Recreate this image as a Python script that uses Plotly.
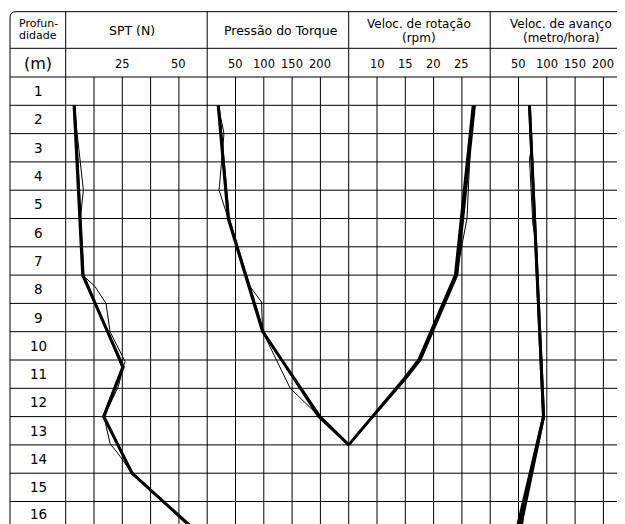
import plotly.graph_objects as go

# ---------------- data ----------------
depth_labels = list(range(1, 17))
spt_ticks = [25, 50]
torque_ticks = [50, 100, 150, 200]
rot_ticks = [10, 15, 20, 25]
av_ticks = [50, 100, 150, 200]

# SPT (N)
spt_depth = [1, 7, 10.25, 12, 14, 16]
spt_main = [3.7, 7.5, 25.4, 16.9, 29.2, 57.0]
spt_alt = [4.0, 7.9, 25.0, 16.5, 29.6, 56.3]
spt_thin_depth = [1, 4, 5, 7, 7.4, 8, 9, 10.05, 10.25, 10.95, 12, 12.95, 13.4, 14, 16]
spt_thin = [3.7, 7.8, 6.5, 7.5, 12.9, 17.8, 19.6, 26.2, 25.4, 23.2, 16.9, 19.6, 24.0, 29.2, 57.0]

# Pressão do Torque
tq_depth = [1, 5, 9, 12, 13]
tq_main = [19.4, 37.1, 97.9, 199.0, 250.0]
tq_alt = [20.5, 38.5, 99.5, 196.0, 250.0]
tq_thin_depth = [1, 2, 4, 5, 7.4, 7.95, 9, 11, 12, 13]
tq_thin = [19.4, 29.7, 21.0, 37.1, 75.5, 96.0, 98.0, 146.7, 199.0, 250.0]

# Veloc. de rotação (rpm)
rot_depth = [1, 7, 10, 10.65, 13]
rot_main = [27.0, 23.85, 17.37, 14.85, 5.0]
rot_alt = [27.3, 24.2, 17.7, 15.15, 5.0]
rot_thin_depth = [1, 2, 5, 7, 10, 10.65, 13]
rot_thin = [27.2, 26.6, 25.9, 24.0, 17.6, 15.0, 5.0]

# Veloc. de avanço (metro/hora)
av_depth = [1, 12, 16]
av_main = [69.4, 94.2, 49.6]
av_alt1 = [68.8, 93.4, 46.0]
av_alt2 = [70.0, 95.2, 53.5]
av_thin_depth = [1, 2.5, 2.9, 5.2, 5.7, 12, 15, 16]
av_thin = [69.4, 73.0, 69.4, 75.4, 79.5, 94.2, 62.0, 56.0]

# ---------------- geometry (page pixels) ----------------
PAGE_W, PAGE_H = 625, 524
OFF = 8                      # default body margin of the html page
FW, FH = PAGE_W - OFF, PAGE_H - OFF
X_LEFT = 10.0
X0 = 65.7
CELL = 28.3
Y_TOP = 11.7
Y_HEAD = 48.3
Y_ROW0 = 77.0


def dpx(py):
    return (py - Y_ROW0) / CELL


def fx(px):
    return (px - OFF) / FW


bx = [X0 + CELL * k for k in range(21)]
D_BOT = dpx(PAGE_H)
D_TOPAX = dpx(OFF)

fig = go.Figure()


def add_lines(xs, ys, axis, width):
    fig.add_trace(go.Scatter(x=xs, y=ys, xaxis=axis, yaxis="y", mode="lines",
                             line=dict(color="black", width=width),
                             hoverinfo="skip", showlegend=False))


add_lines(spt_thin, spt_thin_depth, "x2", 1)
add_lines(spt_alt, spt_depth, "x2", 2)
add_lines(spt_main, spt_depth, "x2", 3)

add_lines(tq_thin, tq_thin_depth, "x3", 1)
add_lines(tq_alt, tq_depth, "x3", 2)
add_lines(tq_main, tq_depth, "x3", 3)

add_lines(rot_thin, rot_thin_depth, "x4", 1)
add_lines(rot_alt, rot_depth, "x4", 2)
add_lines(rot_main, rot_depth, "x4", 3)

add_lines(av_thin, av_thin_depth, "x5", 1)
add_lines(av_alt1, av_depth, "x5", 2)
add_lines(av_alt2, av_depth, "x5", 2)
add_lines(av_main, av_depth, "x5", 3)

shapes = []
LC = dict(color="black", width=1)
for k in range(0, 17):
    shapes.append(dict(type="line", xref="x", yref="y", x0=X_LEFT, x1=PAGE_W, y0=k, y1=k, line=LC, layer="below"))
shapes.append(dict(type="line", xref="x", yref="y", x0=X_LEFT, x1=PAGE_W, y0=dpx(Y_HEAD), y1=dpx(Y_HEAD), line=LC, layer="below"))
r = 6.0
dt = dpx(Y_TOP)
shapes.append(dict(type="path", xref="x", yref="y",
                   path=f"M {X_LEFT},{D_BOT} L {X_LEFT},{dpx(Y_TOP + r)} Q {X_LEFT},{dt} {X_LEFT + r},{dt} L {PAGE_W},{dt}",
                   line=LC, layer="below"))
for xk in [X0, bx[5], bx[10], bx[15]]:
    shapes.append(dict(type="line", xref="x", yref="y", x0=xk, x1=xk, y0=dt, y1=D_BOT, line=LC, layer="below"))
for k in range(1, 21):
    if k % 5 == 0:
        continue
    shapes.append(dict(type="line", xref="x", yref="y", x0=bx[k], x1=bx[k], y0=0, y1=D_BOT, line=LC, layer="below"))

FONT = "DejaVu Sans"
ann = []


def txt(x, y, s, size, xref="x", yanchor="middle"):
    ann.append(dict(x=x, y=y, xref=xref, yref="y", text=s, showarrow=False,
                    xanchor="center", yanchor=yanchor,
                    font=dict(family=FONT, size=size, color="black")))


HS = 12.5
txt(38, dpx(23.3), "Profun-", 11)
txt(38, dpx(35), "didade", 11)
txt((X0 + bx[5]) / 2 - 4, dpx(30), "SPT (N)", HS)
txt((bx[5] + bx[10]) / 2 + 3, dpx(30), "Pressão do Torque", HS)
txt((bx[10] + bx[15]) / 2, dpx(24), "Veloc. de rotação", 12)
txt((bx[10] + bx[15]) / 2, dpx(37.8), "(rpm)", 12)
txt((bx[15] + bx[20]) / 2, dpx(24), "Veloc. de avanço", 12)
txt((bx[15] + bx[20]) / 2, dpx(37.8), "(metro/hora)", 12)
txt(38, dpx(63), "(m)", 16)
yt = dpx(63.5)
for v in spt_ticks:
    txt(v, yt, str(v), 11.5, "x2")
for v in torque_ticks:
    txt(v, yt, str(v), 11.5, "x3")
for v in rot_ticks:
    txt(v, yt, str(v), 11.5, "x4")
for v in av_ticks:
    txt(v, yt, str(v), 11.5, "x5")
for d in depth_labels:
    if d == depth_labels[-1]:
        txt(38, D_BOT, str(d), 13.5, yanchor="bottom")
    else:
        txt(38, d - 0.5, str(d), 13.5)

hidden = dict(visible=False, showgrid=False, zeroline=False, fixedrange=True)
fig.update_layout(
    width=FW, height=FH, autosize=False,
    margin=dict(l=0, r=0, t=0, b=0, pad=0),
    paper_bgcolor="white", plot_bgcolor="rgba(0,0,0,0)",
    shapes=shapes, annotations=ann,
    xaxis=dict(domain=[0, 1], range=[OFF, PAGE_W], **hidden),
    yaxis=dict(domain=[0, 1], range=[D_BOT, D_TOPAX], **hidden),
    xaxis2=dict(domain=[fx(X0), fx(bx[5])], range=[0, 62.5], anchor="y", **hidden),
    xaxis3=dict(domain=[fx(bx[5]), fx(bx[10])], range=[0, 250], anchor="y", **hidden),
    xaxis4=dict(domain=[fx(bx[10]), fx(bx[15])], range=[5, 30], anchor="y", **hidden),
    xaxis5=dict(domain=[fx(bx[15]), 1], range=[0, 50 * (PAGE_W - bx[15]) / CELL], anchor="y", **hidden),
)
fig.write_html("out.html", config={"displayModeBar": False})
